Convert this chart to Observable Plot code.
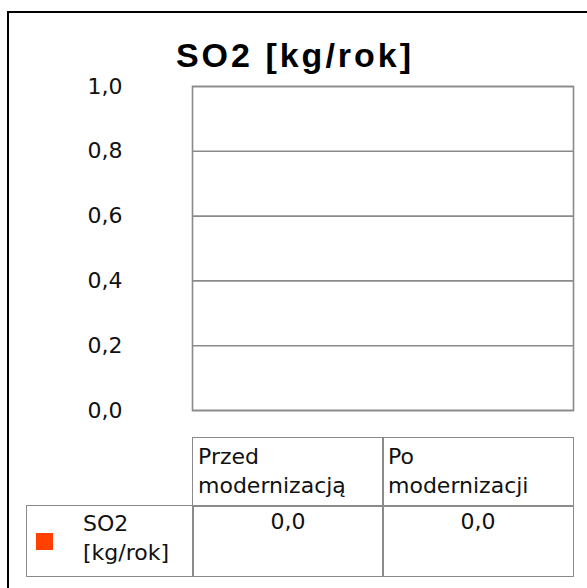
<!DOCTYPE html>
<html><head><meta charset="utf-8">
<script src="https://cdn.jsdelivr.net/npm/d3@7"></script>
<script src="https://cdn.jsdelivr.net/npm/@observablehq/plot@0.6"></script>
<style>
html,body{margin:0;padding:0;background:#fff;}
#root{position:relative;width:587px;height:588px;overflow:hidden;background:#fff;font-family:"DejaVu Sans",sans-serif;color:#000;}
.frame{position:absolute;left:7px;top:11px;width:700px;height:700px;border-left:2px solid #000;border-top:2px solid #000;}
#title{position:absolute;left:0;top:39px;width:587px;text-align:center;font-family:"Liberation Sans",Arial,sans-serif;font-weight:bold;font-size:34px;line-height:32px;letter-spacing:3px;padding-left:3px;box-sizing:border-box;white-space:nowrap;}
#chart{position:absolute;left:0;top:0;}
.cell{position:absolute;box-sizing:border-box;border:1.6px solid #8a8a8a;}
.txt{position:absolute;font-family:"DejaVu Sans",sans-serif;font-size:22px;line-height:29px;white-space:nowrap;color:#111;}
.key{position:absolute;}
</style></head><body>
<div id="root">
  <div class="frame"></div>
  <div id="chart"></div>
  <div id="title"></div>
  <div id="table"></div>
</div>
<script>
const titleText = "SO2 [kg/rok]";
const categories = ["Przed modernizacją", "Po modernizacji"];
const headerLines = [["Przed", "modernizacją"], ["Po", "modernizacji"]];
const seriesName = "SO2 [kg/rok]";
const seriesLines = ["SO2", "[kg/rok]"];
const values = [0.0, 0.0];
const yTicks = [0, 0.2, 0.4, 0.6, 0.8, 1.0];
const seriesColor = "#ff4000";

const fmt = v => v.toFixed(1).replace(".", ",");
const data = categories.map((c, i) => ({category: c, value: values[i], series: seriesName}));

document.getElementById("title").textContent = titleText;

const plot = Plot.plot({
  width: 587,
  height: 430,
  marginLeft: 192,
  marginRight: 14,
  marginTop: 86,
  marginBottom: 20,
  style: {fontFamily: "DejaVu Sans", fontSize: "22px", color: "#111", background: "transparent", overflow: "visible"},
  x: {domain: categories, padding: 0, axis: null},
  y: {domain: [0, 1], ticks: yTicks, tickFormat: fmt, tickSize: 0, tickPadding: 70, label: null},
  marks: [
    Plot.ruleY(yTicks, {stroke: "#8a8a8a", strokeWidth: 1.6}),
    Plot.barY(data, {x: "category", y: "value", fill: seriesColor, insetLeft: 38, insetRight: 38}),
    Plot.frame({stroke: "#8a8a8a", strokeWidth: 1.6})
  ]
});
document.getElementById("chart").appendChild(plot);

// Data table aligned with the x scale
const sx = plot.scale("x");
const bw = sx.bandwidth;
const table = document.getElementById("table");
const headTop = 438, rowTop = 506, rowBottom = 576, labelLeft = 27;
function cell(l, t, w, h) {
  const d = document.createElement("div");
  d.className = "cell";
  d.style.left = (l - 0.8) + "px"; d.style.top = (t - 0.8) + "px";
  d.style.width = (w + 1.6) + "px"; d.style.height = (h + 1.6) + "px";
  table.appendChild(d);
}
function text(lines, l, t, w, align) {
  const d = document.createElement("div");
  d.className = "txt";
  d.style.left = l + "px"; d.style.top = t + "px";
  if (w) { d.style.width = w + "px"; d.style.textAlign = align || "left"; }
  d.innerHTML = lines.map(s => s.replace(/&/g, "&amp;").replace(/</g, "&lt;")).join("<br>");
  table.appendChild(d);
}
categories.forEach((c, i) => {
  const x0 = sx.apply(c);
  cell(x0, headTop, bw, rowTop - headTop);
  cell(x0, rowTop, bw, rowBottom - rowTop);
  text(headerLines[i], x0 + 5, headTop + 4);
  text([fmt(values[i])], x0, rowTop + 1, bw, "center");
});
const firstLeft = sx.apply(categories[0]);
cell(labelLeft, rowTop, firstLeft - labelLeft, rowBottom - rowTop);
text(seriesLines, 83, rowTop + 3);
const key = document.createElement("div");
key.className = "key";
key.style.cssText = `left:36px;top:533px;width:17px;height:17px;background:${seriesColor};`;
table.appendChild(key);
</script>
</body></html>
